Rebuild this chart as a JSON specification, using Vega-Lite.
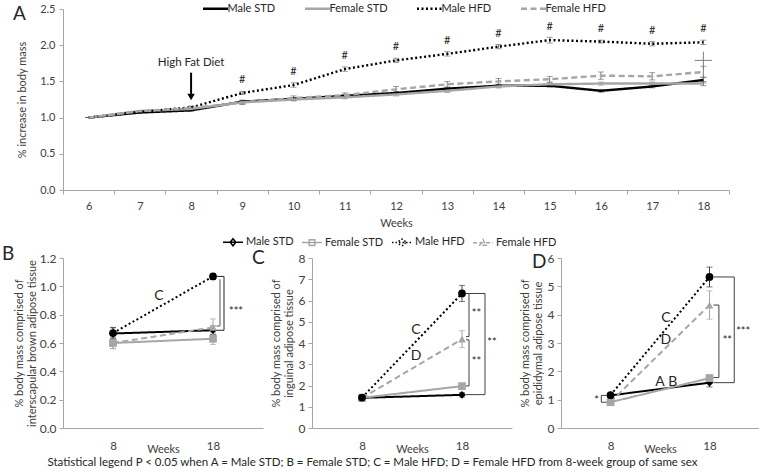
{
  "$schema": "https://vega.github.io/schema/vega-lite/v6.json",
  "padding": {"left": 2, "top": 2, "right": 0, "bottom": 1},
  "config": {
    "font": "Lato",
    "view": {"stroke": null},
    "axis": {"grid": false, "domainColor": "#a6a6a6", "tickColor": "#a6a6a6", "labelColor": "#404040", "titleColor": "#404040", "titleFontWeight": "normal", "labelFontSize": 11, "titleFontSize": 11},
    "legend": {"labelColor": "#262626", "labelFontSize": 11},
    "title": {"fontWeight": "normal", "color": "#262626"}
  },
  "title": {"text": "Statistical legend P < 0.05 when A = Male STD; B = Female STD; C = Male HFD; D = Female HFD from 8-week group of same sex", "orient": "bottom", "anchor": "middle", "fontSize": 11.5, "offset": 2, "dx": -8},
  "resolve": {"scale": {"color": "independent", "strokeDash": "independent", "shape": "independent", "stroke": "independent"}},
  "columns": 1,
  "align": "none",
  "spacing": 8,
  "concat": [
    {
      "width": 666,
      "height": 181,
      "title": {"text": "A", "anchor": "start", "frame": "group", "fontSize": 19, "dx": -50, "dy": 22, "offset": 0},
      "data": {"values": [
        {"series": "Male STD", "week": 6, "value": 1.0, "err": 0.0},
        {"series": "Male STD", "week": 7, "value": 1.07, "err": 0.01},
        {"series": "Male STD", "week": 8, "value": 1.1, "err": 0.01},
        {"series": "Male STD", "week": 9, "value": 1.22, "err": 0.02},
        {"series": "Male STD", "week": 10, "value": 1.26, "err": 0.02},
        {"series": "Male STD", "week": 11, "value": 1.3, "err": 0.02},
        {"series": "Male STD", "week": 12, "value": 1.34, "err": 0.02},
        {"series": "Male STD", "week": 13, "value": 1.4, "err": 0.02},
        {"series": "Male STD", "week": 14, "value": 1.44, "err": 0.02},
        {"series": "Male STD", "week": 15, "value": 1.44, "err": 0.02},
        {"series": "Male STD", "week": 16, "value": 1.37, "err": 0.02},
        {"series": "Male STD", "week": 17, "value": 1.43, "err": 0.02},
        {"series": "Male STD", "week": 18, "value": 1.52, "err": 0.04},
        {"series": "Female STD", "week": 6, "value": 1.0, "err": 0.0},
        {"series": "Female STD", "week": 7, "value": 1.09, "err": 0.01},
        {"series": "Female STD", "week": 8, "value": 1.12, "err": 0.01},
        {"series": "Female STD", "week": 9, "value": 1.21, "err": 0.02},
        {"series": "Female STD", "week": 10, "value": 1.25, "err": 0.02},
        {"series": "Female STD", "week": 11, "value": 1.28, "err": 0.02},
        {"series": "Female STD", "week": 12, "value": 1.32, "err": 0.02},
        {"series": "Female STD", "week": 13, "value": 1.37, "err": 0.02},
        {"series": "Female STD", "week": 14, "value": 1.43, "err": 0.02},
        {"series": "Female STD", "week": 15, "value": 1.46, "err": 0.02},
        {"series": "Female STD", "week": 16, "value": 1.47, "err": 0.02},
        {"series": "Female STD", "week": 17, "value": 1.47, "err": 0.02},
        {"series": "Female STD", "week": 18, "value": 1.47, "err": 0.03},
        {"series": "Male HFD", "week": 6, "value": 1.0, "err": 0.0},
        {"series": "Male HFD", "week": 7, "value": 1.08, "err": 0.01},
        {"series": "Male HFD", "week": 8, "value": 1.14, "err": 0.02},
        {"series": "Male HFD", "week": 9, "value": 1.34, "err": 0.02},
        {"series": "Male HFD", "week": 10, "value": 1.45, "err": 0.03},
        {"series": "Male HFD", "week": 11, "value": 1.67, "err": 0.03},
        {"series": "Male HFD", "week": 12, "value": 1.79, "err": 0.03},
        {"series": "Male HFD", "week": 13, "value": 1.88, "err": 0.03},
        {"series": "Male HFD", "week": 14, "value": 1.98, "err": 0.03},
        {"series": "Male HFD", "week": 15, "value": 2.07, "err": 0.04},
        {"series": "Male HFD", "week": 16, "value": 2.05, "err": 0.02},
        {"series": "Male HFD", "week": 17, "value": 2.02, "err": 0.03},
        {"series": "Male HFD", "week": 18, "value": 2.04, "err": 0.03},
        {"series": "Female HFD", "week": 6, "value": 1.0, "err": 0.0},
        {"series": "Female HFD", "week": 7, "value": 1.09, "err": 0.01},
        {"series": "Female HFD", "week": 8, "value": 1.13, "err": 0.02},
        {"series": "Female HFD", "week": 9, "value": 1.21, "err": 0.03},
        {"series": "Female HFD", "week": 10, "value": 1.27, "err": 0.03},
        {"series": "Female HFD", "week": 11, "value": 1.31, "err": 0.03},
        {"series": "Female HFD", "week": 12, "value": 1.39, "err": 0.04},
        {"series": "Female HFD", "week": 13, "value": 1.46, "err": 0.04},
        {"series": "Female HFD", "week": 14, "value": 1.5, "err": 0.04},
        {"series": "Female HFD", "week": 15, "value": 1.53, "err": 0.04},
        {"series": "Female HFD", "week": 16, "value": 1.58, "err": 0.05},
        {"series": "Female HFD", "week": 17, "value": 1.57, "err": 0.05},
        {"series": "Female HFD", "week": 18, "value": 1.63, "err": 0.08}
      ]},
      "encoding": {
        "x": {"field": "week", "type": "ordinal", "scale": {"type": "band", "domain": [6,7,8,9,10,11,12,13,14,15,16,17,18], "paddingInner": 0, "paddingOuter": 0}, "axis": {"tickBand": "extent", "labelAngle": 0, "tickSize": 4, "labelPadding": 6, "title": "Weeks", "titlePadding": 6}},
        "y": {"field": "value", "type": "quantitative", "scale": {"domain": [0, 2.5]}, "axis": {"values": [0, 0.5, 1, 1.5, 2, 2.5], "format": ".1f", "tickSize": 4, "labelPadding": 4, "title": "% increase in body mass", "titlePadding": 12}}
      },
      "layer": [
        {
          "mark": {"type": "errorbar", "ticks": true, "size": 6, "thickness": 0.8, "color": "#595959"},
          "encoding": {"yError": {"field": "err"}}
        },
        {
          "mark": {"type": "line", "strokeWidth": 2.4},
          "encoding": {
            "color": {"field": "series", "type": "nominal", "scale": {"domain": ["Male STD", "Female STD", "Male HFD", "Female HFD"], "range": ["#000000", "#a6a6a6", "#000000", "#a6a6a6"]}, "legend": {"orient": "none", "legendX": 146, "legendY": -7, "direction": "horizontal", "title": null, "symbolType": "M-2.5,0H2.5", "symbolSize": 100, "symbolStrokeWidth": 2.5, "labelOffset": 5.5, "columnPadding": 24}},
            "strokeDash": {"field": "series", "type": "nominal", "scale": {"domain": ["Male STD", "Female STD", "Male HFD", "Female HFD"], "range": [[1, 0], [1, 0], [2, 2.5], [6, 3.5]]}, "legend": {"orient": "none", "legendX": 146, "legendY": -7, "direction": "horizontal", "title": null, "symbolType": "M-2.5,0H2.5", "symbolSize": 100, "symbolStrokeWidth": 2.5, "labelOffset": 5.5, "columnPadding": 24}}
          }
        },
        {
          "transform": [{"filter": "datum.series == 'Male HFD' && datum.week >= 9"}],
          "mark": {"type": "text", "text": "#", "dy": -13, "fontSize": 11, "color": "#262626"}
        },
        {
          "data": {"values": [{"week": 8, "value": 1.76, "label": "High Fat Diet"}]},
          "mark": {"type": "text", "fontSize": 11.5, "color": "#262626"},
          "encoding": {"text": {"field": "label"}}
        },
        {
          "data": {"values": [{"week": 8, "value": 1.62, "value2": 1.3}]},
          "mark": {"type": "rule", "strokeWidth": 2, "color": "#000000"},
          "encoding": {"y2": {"field": "value2"}}
        },
        {
          "data": {"values": [{"week": 8, "value": 1.285}]},
          "mark": {"type": "point", "shape": "triangle-down", "filled": true, "size": 55, "color": "#000000", "opacity": 1}
        },
        {
          "data": {"values": [{"week": 18, "value": 1.79}]},
          "mark": {"type": "point", "shape": "M-1,0H1M0,-1V1", "filled": false, "size": 300, "color": "#7f7f7f", "strokeWidth": 1, "opacity": 1}
        }
      ]
    },
    {
      "bounds": "flush",
      "spacing": 49,
      "resolve": {"scale": {"color": "independent", "strokeDash": "independent", "shape": "independent", "stroke": "independent"}},
      "hconcat": [
        {
          "width": 200,
          "height": 170,
          "title": {"text": "B", "anchor": "start", "frame": "group", "fontSize": 19, "dx": -61, "dy": 12, "offset": 0},
          "data": {"values": [
            {"series": "Male STD", "week": 8, "value": 0.667, "err": 0.04},
            {"series": "Male STD", "week": 18, "value": 0.69, "err": 0.03},
            {"series": "Female STD", "week": 8, "value": 0.6, "err": 0.04},
            {"series": "Female STD", "week": 18, "value": 0.63, "err": 0.04},
            {"series": "Female HFD", "week": 8, "value": 0.6, "err": 0.04},
            {"series": "Female HFD", "week": 18, "value": 0.71, "err": 0.06},
            {"series": "Male HFD", "week": 8, "value": 0.67, "err": 0.04},
            {"series": "Male HFD", "week": 18, "value": 1.07, "err": 0.02}
          ]},
          "encoding": {
            "x": {"field": "week", "type": "quantitative", "scale": {"domain": [3, 23]}, "axis": {"values": [8, 18], "ticks": false, "labelPadding": 12, "title": "Weeks", "titlePadding": -8, "labelFontSize": 11.5}},
            "y": {"field": "value", "type": "quantitative", "scale": {"domain": [0, 1.2]}, "axis": {"values": [0, 0.2, 0.4, 0.6, 0.8, 1.0, 1.2], "format": ".1f", "tickSize": 4, "labelPadding": 3, "labelFontSize": 12, "title": ["% body mass comprised of", "interscapular brown adipose tissue"], "titlePadding": 2, "titleLineHeight": 12.5}}
          },
          "resolve": {"scale": {"color": "independent", "strokeDash": "independent", "shape": "independent", "stroke": "independent"}},
          "layer": [
            {
              "mark": {"type": "line", "strokeWidth": 2},
              "encoding": {
                "color": {"field": "series", "type": "nominal", "scale": {"domain": ["Male STD", "Female STD", "Male HFD", "Female HFD"], "range": ["#000000", "#a6a6a6", "#000000", "#a6a6a6"]}, "legend": null},
                "strokeDash": {"field": "series", "type": "nominal", "scale": {"domain": ["Male STD", "Female STD", "Male HFD", "Female HFD"], "range": [[1, 0], [1, 0], [2, 2.5], [6, 3.5]]}, "legend": null}
              }
            },
            {
              "mark": {"type": "errorbar", "ticks": true, "size": 6, "thickness": 1},
              "encoding": {
                "yError": {"field": "err"},
                "color": {"field": "series", "type": "nominal", "scale": {"domain": ["Male STD", "Female STD", "Male HFD", "Female HFD"], "range": ["#404040", "#a6a6a6", "#404040", "#a6a6a6"]}, "legend": null}
              }
            },
            {
              "mark": {"type": "point", "filled": true, "size": 60, "opacity": 1},
              "encoding": {
                "shape": {"field": "series", "type": "nominal", "scale": {"domain": ["Male STD", "Female STD", "Male HFD", "Female HFD"], "range": ["diamond", "square", "circle", "triangle-up"]}, "legend": null},
                "color": {"field": "series", "type": "nominal", "scale": {"domain": ["Male STD", "Female STD", "Male HFD", "Female HFD"], "range": ["#000000", "#a6a6a6", "#000000", "#a6a6a6"]}, "legend": null}
              }
            },
            {
              "data": {"values": [
                {"week": 18.35, "week2": 19.1, "value": 1.07, "value2": 1.07},
                {"week": 19.1, "week2": 19.1, "value": 1.07, "value2": 0.69},
                {"week": 18.35, "week2": 19.1, "value": 0.69, "value2": 0.69}
              ]},
              "mark": {"type": "rule", "color": "#262626", "strokeWidth": 1},
              "encoding": {"x2": {"field": "week2"}, "y2": {"field": "value2"}}
            },
            {
              "data": {"values": [
                {"week": 18.7, "week2": 18.7, "value": 1.05, "value2": 0.72},
                {"week": 18.35, "week2": 18.7, "value": 0.72, "value2": 0.72}
              ]},
              "mark": {"type": "rule", "color": "#8c8c8c", "strokeWidth": 1.5},
              "encoding": {"x2": {"field": "week2"}, "y2": {"field": "value2"}}
            },
            {
              "data": {"values": [
                {"week": 12.6, "value": 0.93, "label": "C", "kind": "letter"},
                {"week": 20.3, "value": 0.82, "label": "***", "kind": "star"}
              ]},
              "mark": {"type": "text", "color": "#262626"},
              "encoding": {"text": {"field": "label"}, "size": {"field": "kind", "type": "nominal", "scale": {"domain": ["letter", "star"], "range": [14, 11]}, "legend": null}}
            }
          ]
        },
        {
          "width": 200,
          "height": 170,
          "title": {"text": "C", "anchor": "start", "frame": "group", "fontSize": 19, "dx": -60, "dy": 32, "offset": 0},
          "data": {"values": [
            {"series": "Male STD", "week": 8, "value": 1.42, "err": 0.05},
            {"series": "Male STD", "week": 18, "value": 1.56, "err": 0.1},
            {"series": "Female STD", "week": 8, "value": 1.42, "err": 0.05},
            {"series": "Female STD", "week": 18, "value": 1.97, "err": 0.08},
            {"series": "Female HFD", "week": 8, "value": 1.41, "err": 0.05},
            {"series": "Female HFD", "week": 18, "value": 4.18, "err": 0.4},
            {"series": "Male HFD", "week": 8, "value": 1.43, "err": 0.05},
            {"series": "Male HFD", "week": 18, "value": 6.33, "err": 0.38}
          ]},
          "encoding": {
            "x": {"field": "week", "type": "quantitative", "scale": {"domain": [3, 23]}, "axis": {"values": [8, 18], "ticks": false, "labelPadding": 12, "title": "Weeks", "titlePadding": -8, "labelFontSize": 11.5}},
            "y": {"field": "value", "type": "quantitative", "scale": {"domain": [0, 8]}, "axis": {"values": [0, 1, 2, 3, 4, 5, 6, 7, 8], "tickSize": 4, "labelPadding": 3, "labelFontSize": 12, "title": ["% body mass comprised of", "inguinal  adipose tissue"], "titlePadding": 4, "titleLineHeight": 12.5}}
          },
          "resolve": {"scale": {"color": "independent", "strokeDash": "independent", "shape": "independent", "stroke": "independent"}},
          "layer": [
            {
              "mark": {"type": "line", "strokeWidth": 2},
              "encoding": {
                "color": {"field": "series", "type": "nominal", "scale": {"domain": ["Male STD", "Female STD", "Male HFD", "Female HFD"], "range": ["#000000", "#a6a6a6", "#000000", "#a6a6a6"]}, "legend": null},
                "strokeDash": {"field": "series", "type": "nominal", "scale": {"domain": ["Male STD", "Female STD", "Male HFD", "Female HFD"], "range": [[1, 0], [1, 0], [2, 2.5], [6, 3.5]]}, "legend": null}
              }
            },
            {
              "mark": {"type": "errorbar", "ticks": true, "size": 6, "thickness": 1},
              "encoding": {
                "yError": {"field": "err"},
                "color": {"field": "series", "type": "nominal", "scale": {"domain": ["Male STD", "Female STD", "Male HFD", "Female HFD"], "range": ["#404040", "#a6a6a6", "#404040", "#a6a6a6"]}, "legend": null}
              }
            },
            {
              "mark": {"type": "point", "filled": true, "size": 60, "opacity": 1},
              "encoding": {
                "shape": {"field": "series", "type": "nominal", "scale": {"domain": ["Male STD", "Female STD", "Male HFD", "Female HFD"], "range": ["diamond", "square", "circle", "triangle-up"]}, "legend": null},
                "color": {"field": "series", "type": "nominal", "scale": {"domain": ["Male STD", "Female STD", "Male HFD", "Female HFD"], "range": ["#000000", "#a6a6a6", "#000000", "#a6a6a6"]}, "legend": null}
              }
            },
            {
              "data": {"values": [
                {"week": 18.4, "week2": 20.3, "value": 6.33, "value2": 6.33},
                {"week": 18.7, "week2": 18.7, "value": 6.33, "value2": 4.3},
                {"week": 18.4, "week2": 18.7, "value": 4.3, "value2": 4.3},
                {"week": 18.4, "week2": 18.7, "value": 4.15, "value2": 4.15},
                {"week": 18.7, "week2": 18.7, "value": 4.15, "value2": 1.98},
                {"week": 18.4, "week2": 18.7, "value": 1.98, "value2": 1.98},
                {"week": 20.3, "week2": 20.3, "value": 6.33, "value2": 1.57},
                {"week": 18.4, "week2": 20.3, "value": 1.57, "value2": 1.57}
              ]},
              "mark": {"type": "rule", "color": "#404040", "strokeWidth": 1},
              "encoding": {"x2": {"field": "week2"}, "y2": {"field": "value2"}}
            },
            {
              "data": {"values": [
                {"week": 13.4, "value": 4.62, "label": "C", "kind": "letter"},
                {"week": 13.4, "value": 3.38, "label": "D", "kind": "letter"},
                {"week": 19.45, "value": 5.35, "label": "**", "kind": "star"},
                {"week": 19.45, "value": 3.1, "label": "**", "kind": "star"},
                {"week": 21.0, "value": 3.98, "label": "**", "kind": "star"}
              ]},
              "mark": {"type": "text", "color": "#262626"},
              "encoding": {"text": {"field": "label"}, "size": {"field": "kind", "type": "nominal", "scale": {"domain": ["letter", "star"], "range": [14, 11]}, "legend": null}}
            },
            {
              "data": {"values": [
                {"series": "Male STD", "week": 8, "value": 1.42},
                {"series": "Female STD", "week": 8, "value": 1.42},
                {"series": "Male HFD", "week": 8, "value": 1.42},
                {"series": "Female HFD", "week": 8, "value": 1.42}
              ]},
              "mark": {"type": "point", "filled": true, "opacity": 0},
              "encoding": {
                "color": {"field": "series", "type": "nominal", "scale": {"domain": ["Male STD", "Female STD", "Male HFD", "Female HFD"], "range": ["#000000", "#a6a6a6", "#000000", "#a6a6a6"]}, "legend": {"orient": "none", "legendX": -85, "legendY": -22, "direction": "horizontal", "title": null, "symbolSize": 100, "symbolStrokeWidth": 1.5, "labelOffset": 7, "columnPadding": 5}},
                "stroke": {"field": "series", "type": "nominal", "scale": {"domain": ["Male STD", "Female STD", "Male HFD", "Female HFD"], "range": ["#000000", "#a6a6a6", "#000000", "#a6a6a6"]}, "legend": {"orient": "none", "legendX": -85, "legendY": -22, "direction": "horizontal", "title": null, "symbolSize": 100, "symbolStrokeWidth": 1.5, "labelOffset": 7, "columnPadding": 5}},
                "strokeDash": {"field": "series", "type": "nominal", "scale": {"domain": ["Male STD", "Female STD", "Male HFD", "Female HFD"], "range": [[1, 0], [1, 0], [1.5, 2], [4, 2.5]]}, "legend": {"orient": "none", "legendX": -85, "legendY": -22, "direction": "horizontal", "title": null, "symbolSize": 100, "symbolStrokeWidth": 1.5, "labelOffset": 7, "columnPadding": 5}},
                "shape": {"field": "series", "type": "nominal", "scale": {"domain": ["Male STD", "Female STD", "Male HFD", "Female HFD"], "range": ["M-2,0H2M0,-0.7L0.56,0L0,0.7L-0.56,0Z", "M-2,0H2M-0.56,-0.56H0.56V0.56H-0.56Z", "M-2,0H2M0.64,0A0.64,0.64,0,1,1,-0.64,0A0.64,0.64,0,1,1,0.64,0Z", "M-2,0H2M0,-0.64L0.64,0.52L-0.64,0.52Z"]}, "legend": {"orient": "none", "legendX": -85, "legendY": -22, "direction": "horizontal", "title": null, "symbolSize": 100, "symbolStrokeWidth": 1.5, "labelOffset": 7, "columnPadding": 5}}
              }
            }
          ]
        },
        {
          "width": 198,
          "height": 170,
          "title": {"text": "D", "anchor": "start", "frame": "group", "fontSize": 19, "dx": -29, "dy": 20, "offset": 0},
          "data": {"values": [
            {"series": "Male STD", "week": 8, "value": 1.15, "err": 0.05},
            {"series": "Male STD", "week": 18, "value": 1.6, "err": 0.15},
            {"series": "Female STD", "week": 8, "value": 0.91, "err": 0.05},
            {"series": "Female STD", "week": 18, "value": 1.76, "err": 0.12},
            {"series": "Female HFD", "week": 8, "value": 0.92, "err": 0.05},
            {"series": "Female HFD", "week": 18, "value": 4.34, "err": 0.5},
            {"series": "Male HFD", "week": 8, "value": 1.16, "err": 0.05},
            {"series": "Male HFD", "week": 18, "value": 5.33, "err": 0.35}
          ]},
          "encoding": {
            "x": {"field": "week", "type": "quantitative", "scale": {"domain": [3, 23]}, "axis": {"values": [8, 18], "ticks": false, "labelPadding": 12, "title": "Weeks", "titlePadding": -8, "labelFontSize": 11.5}},
            "y": {"field": "value", "type": "quantitative", "scale": {"domain": [0, 6]}, "axis": {"values": [0, 1, 2, 3, 4, 5, 6], "tickSize": 4, "labelPadding": 3, "labelFontSize": 12, "title": ["% body mass comprised of", "epididymal adipose tissue"], "titlePadding": 4, "titleLineHeight": 12.5}}
          },
          "resolve": {"scale": {"color": "independent", "strokeDash": "independent", "shape": "independent", "stroke": "independent"}},
          "layer": [
            {
              "mark": {"type": "line", "strokeWidth": 2},
              "encoding": {
                "color": {"field": "series", "type": "nominal", "scale": {"domain": ["Male STD", "Female STD", "Male HFD", "Female HFD"], "range": ["#000000", "#a6a6a6", "#000000", "#a6a6a6"]}, "legend": null},
                "strokeDash": {"field": "series", "type": "nominal", "scale": {"domain": ["Male STD", "Female STD", "Male HFD", "Female HFD"], "range": [[1, 0], [1, 0], [2, 2.5], [6, 3.5]]}, "legend": null}
              }
            },
            {
              "mark": {"type": "errorbar", "ticks": true, "size": 6, "thickness": 1},
              "encoding": {
                "yError": {"field": "err"},
                "color": {"field": "series", "type": "nominal", "scale": {"domain": ["Male STD", "Female STD", "Male HFD", "Female HFD"], "range": ["#404040", "#a6a6a6", "#404040", "#a6a6a6"]}, "legend": null}
              }
            },
            {
              "mark": {"type": "point", "filled": true, "size": 60, "opacity": 1},
              "encoding": {
                "shape": {"field": "series", "type": "nominal", "scale": {"domain": ["Male STD", "Female STD", "Male HFD", "Female HFD"], "range": ["diamond", "square", "circle", "triangle-up"]}, "legend": null},
                "color": {"field": "series", "type": "nominal", "scale": {"domain": ["Male STD", "Female STD", "Male HFD", "Female HFD"], "range": ["#000000", "#a6a6a6", "#000000", "#a6a6a6"]}, "legend": null}
              }
            },
            {
              "data": {"values": [
                {"week": 18.4, "week2": 20.5, "value": 5.33, "value2": 5.33},
                {"week": 20.5, "week2": 20.5, "value": 5.33, "value2": 1.6},
                {"week": 18.4, "week2": 20.5, "value": 1.6, "value2": 1.6},
                {"week": 18.4, "week2": 18.95, "value": 4.34, "value2": 4.34},
                {"week": 18.95, "week2": 18.95, "value": 4.34, "value2": 1.78},
                {"week": 18.4, "week2": 18.95, "value": 1.78, "value2": 1.78},
                {"week": 7.07, "week2": 7.6, "value": 1.15, "value2": 1.15},
                {"week": 7.07, "week2": 7.07, "value": 1.15, "value2": 0.91},
                {"week": 7.07, "week2": 7.6, "value": 0.91, "value2": 0.91}
              ]},
              "mark": {"type": "rule", "color": "#404040", "strokeWidth": 1},
              "encoding": {"x2": {"field": "week2"}, "y2": {"field": "value2"}}
            },
            {
              "data": {"values": [
                {"week": 13.6, "value": 3.87, "label": "C", "kind": "letter"},
                {"week": 13.6, "value": 3.1, "label": "D", "kind": "letter"},
                {"week": 13.0, "value": 1.62, "label": "A", "kind": "letter"},
                {"week": 14.3, "value": 1.62, "label": "B", "kind": "letter"},
                {"week": 19.8, "value": 3.06, "label": "**", "kind": "star"},
                {"week": 21.4, "value": 3.4, "label": "***", "kind": "star"},
                {"week": 6.6, "value": 0.95, "label": "*", "kind": "star"}
              ]},
              "mark": {"type": "text", "color": "#262626"},
              "encoding": {"text": {"field": "label"}, "size": {"field": "kind", "type": "nominal", "scale": {"domain": ["letter", "star"], "range": [14, 11]}, "legend": null}}
            }
          ]
        }
      ]
    }
  ]
}
